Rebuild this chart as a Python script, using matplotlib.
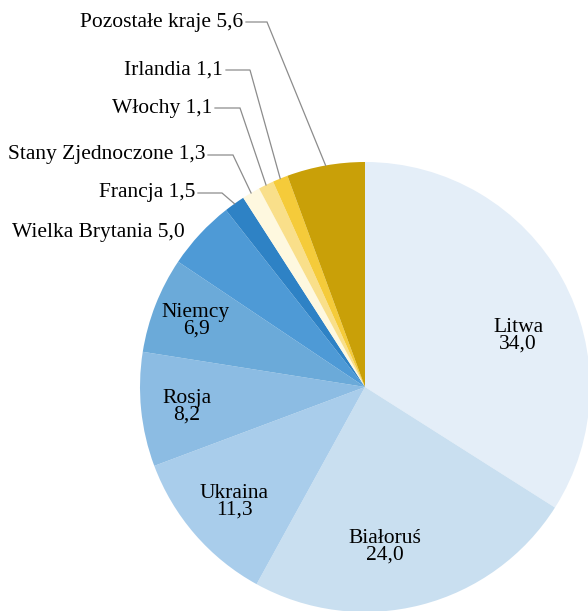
"""Struktura kierunków - wykres kołowy."""
import numpy as np
import matplotlib.pyplot as plt

kraje = ["Litwa", "Białoruś", "Ukraina", "Rosja", "Niemcy", "Wielka Brytania",
         "Francja", "Stany Zjednoczone", "Włochy", "Irlandia", "Pozostałe kraje"]
udzialy = [34.0, 24.0, 11.3, 8.2, 6.9, 5.0, 1.5, 1.3, 1.1, 1.1, 5.6]
kolory = ["#E4EEF8", "#C9DFF0", "#A9CDEB", "#8CBCE3", "#6BAAD9", "#4E9AD6",
          "#2E82C5", "#FEF8DF", "#F9DF8A", "#F5CB3A", "#C9A008"]

W, H = 588, 611
plt.rcParams["font.family"] = ["Liberation Serif", "DejaVu Serif"]

fig = plt.figure(figsize=(W / 100, H / 100), dpi=100)
ax = fig.add_axes([0, 0, 1, 1])

cx, cy, r = 365, H - 387, 225
wedges, _ = ax.pie(udzialy, colors=kolory, startangle=90, counterclock=False,
                   center=(cx, cy), radius=r, frame=True,
                   wedgeprops=dict(linewidth=0))
ax.set_xlim(0, W)
ax.set_ylim(0, H)
ax.set_aspect("equal")
ax.axis("off")


def fmt(v):
    return f"{v:.1f}".replace(".", ",")


fs = 15.5
# etykiety wewnątrz (środek tekstu, piksele od góry)
wewnatrz = {0: (518, 336), 1: (385, 547), 2: (234, 502), 3: (187, 407), 4: (196, 321)}
for i, (x, y) in wewnatrz.items():
    ax.text(x, H - y, f"{kraje[i]}\n{fmt(udzialy[i])}", ha="center", va="center",
            fontsize=fs, linespacing=0.85, color="black")

# etykiety zewnętrzne: (koniec tekstu x, y, załamanie linii x)
zewnatrz = {5: (185, 232, None), 6: (195, 193, 222), 7: (205, 155, 233),
            8: (212, 108, 240), 9: (223, 70, 250), 10: (243, 22, 267)}
for i, (x, y, xl) in zewnatrz.items():
    ax.text(x, H - y, f"{kraje[i]} {fmt(udzialy[i])}", ha="right", va="center",
            fontsize=fs, color="black")
    if xl is None:
        continue
    w = wedges[i]
    kat = np.deg2rad((w.theta1 + w.theta2) / 2)
    px, py = cx + r * np.cos(kat), cy + r * np.sin(kat)
    ax.plot([x + 3, xl, px], [H - y, H - y, py], color="#8c8c8c", lw=0.9,
            solid_joinstyle="miter")

fig.savefig("out.png", dpi=100)
